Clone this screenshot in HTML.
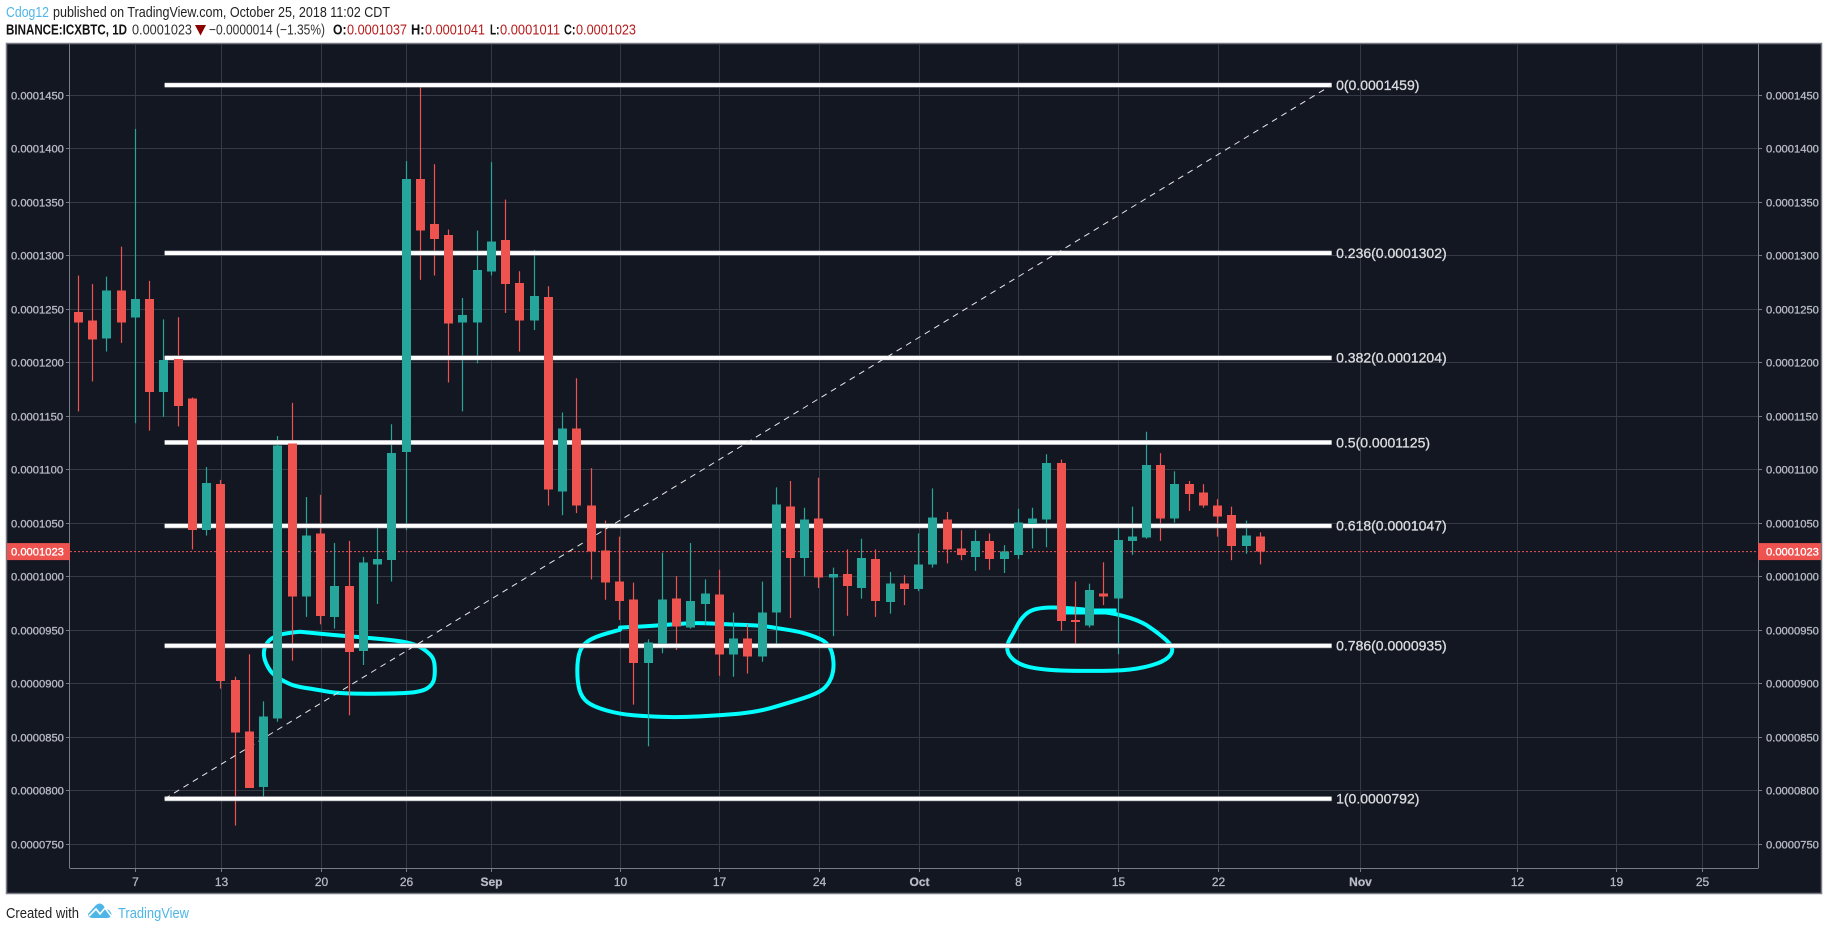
<!DOCTYPE html>
<html lang="en">
<head>
<meta charset="utf-8">
<title>ICXBTC 1D chart</title>
<style>
html,body{margin:0;padding:0;background:#fff;width:1828px;height:930px;overflow:hidden}
svg{display:block;font-family:"Liberation Sans",sans-serif}
</style>
</head>
<body>
<svg id="chart" xmlns="http://www.w3.org/2000/svg" width="1828" height="930" viewBox="0 0 1828 930">
  <rect x="0" y="0" width="1828" height="930" fill="#ffffff"/>
  <g font-size="15">
    <text x="6" y="17" fill="#4db6e6" textLength="43" lengthAdjust="spacingAndGlyphs">Cdog12</text>
    <text x="53" y="17" fill="#222" textLength="337" lengthAdjust="spacingAndGlyphs">published on TradingView.com, October 25, 2018 11:02 CDT</text>
  </g>
  <g font-size="14.5">
    <text x="6" y="34.5" fill="#111" font-weight="bold" textLength="121" lengthAdjust="spacingAndGlyphs">BINANCE:ICXBTC, 1D</text>
    <text x="132" y="34.5" fill="#333" textLength="60" lengthAdjust="spacingAndGlyphs">0.0001023</text>
    <polygon points="195,25 206,25 200.5,35.5" fill="#8b0000"/>
    <text x="209" y="34.5" fill="#333" textLength="116" lengthAdjust="spacingAndGlyphs">−0.0000014 (−1.35%)</text>
    <text x="333" y="34.5" fill="#111" font-weight="bold" textLength="13.5" lengthAdjust="spacingAndGlyphs">O:</text>
    <text x="347" y="34.5" fill="#b71c1c" textLength="60" lengthAdjust="spacingAndGlyphs">0.0001037</text>
    <text x="411" y="34.5" fill="#111" font-weight="bold" textLength="13.5" lengthAdjust="spacingAndGlyphs">H:</text>
    <text x="425" y="34.5" fill="#b71c1c" textLength="60" lengthAdjust="spacingAndGlyphs">0.0001041</text>
    <text x="490" y="34.5" fill="#111" font-weight="bold" textLength="9.5" lengthAdjust="spacingAndGlyphs">L:</text>
    <text x="500" y="34.5" fill="#b71c1c" textLength="60" lengthAdjust="spacingAndGlyphs">0.0001011</text>
    <text x="564" y="34.5" fill="#111" font-weight="bold" textLength="11.5" lengthAdjust="spacingAndGlyphs">C:</text>
    <text x="576" y="34.5" fill="#b71c1c" textLength="60" lengthAdjust="spacingAndGlyphs">0.0001023</text>
  </g>
  <rect x="6.5" y="43.5" width="1815" height="850" fill="#131722" stroke="#787b86" stroke-width="1.5"/>
  <g id="grid"></g>
  <g id="brushes"></g>
  <g id="wicks"></g>
  <g id="fibs"></g>
  <g id="bodies"></g>
  <g id="axes"></g>
  <g>
    <text x="6" y="918" font-size="14.5" fill="#222" textLength="73" lengthAdjust="spacingAndGlyphs">Created with</text>
    <path d="M88 914 L96 905 Q100 902 103 905 L106 909 Q111 910 111.500 915 Q110 918 107 918 L93 918 Q88 918 88 914 Z" fill="#4db6e6"/>
    <polyline points="89,916 96,909 100,914 105,908 111,916" fill="none" stroke="#ffffff" stroke-width="1.6"/>
    <text x="118" y="918" font-size="14.5" fill="#4db6e6" textLength="71" lengthAdjust="spacingAndGlyphs">TradingView</text>
  </g>
</svg>
<script>
// Prices are in units of 1e-7 BTC; index 0 is Aug 3.
const opens = [1247,1239,1222,1267,1242,1259,1172,1203,1166,1043,1086,903,855,803,867,1124,981,1040,962,991,930,1011,1015,1116,1371,1329,1319,1237,1237,1285,1314,1274,1239,1261,1079,1138,1066,1024,995,978,919,937,979,952,974,983,927,942,925,966,1065,1017,1054,999,1002,989,1016,976,993,988,1011,1053,1026,1018,1033,1016,1020,1049,1053,1106,959,954,984,979,1033,1036,1104,1054,1086,1078,1066,1057,1028,1037];
const highs = [1281,1273,1280,1308,1418,1276,1240,1242,1167,1102,1090,906,927,883,1131,1162,1074,1076,1031,1033,1018,1047,1142,1388,1459,1385,1324,1260,1323,1387,1352,1285,1305,1271,1153,1185,1101,1052,1037,994,941,1022,1000,1031,997,1006,966,955,995,1083,1089,1064,1092,1008,1025,1035,1025,1004,1001,1040,1082,1060,1043,1043,1040,1029,1063,1064,1114,1109,995,993,1013,1045,1065,1135,1115,1098,1089,1086,1072,1065,1052,1041];
const lows = [1154,1182,1210,1218,1143,1136,1149,1140,1025,1038,895,767,802,794,864,921,962,955,951,870,917,974,995,1043,1277,1281,1181,1154,1199,1281,1246,1210,1230,1066,1057,1059,997,978,959,880,841,928,931,951,954,907,906,909,920,936,961,1000,989,944,963,979,962,965,973,986,1008,1012,1015,1005,1006,1003,1016,1026,1027,949,933,952,973,927,1020,1035,1033,1050,1061,1064,1037,1015,1021,1011];
const closes = [1237,1221,1267,1237,1259,1172,1202,1159,1043,1087,902,854,802,869,1122,981,1038,963,991,929,1013,1016,1115,1371,1323,1315,1236,1244,1286,1313,1273,1239,1262,1081,1138,1066,1023,994,977,919,938,978,953,977,984,927,942,925,966,1067,1017,1053,999,1002,991,1017,977,993,988,1011,1055,1025,1020,1033,1016,1023,1050,1054,1106,958,957,987,981,1034,1037,1104,1054,1086,1077,1066,1056,1028,1038,1023];
const lastClose = 1023;
const priceTicks = [1450,1400,1350,1300,1250,1200,1150,1100,1050,1000,950,900,850,800,750];
const dateLabels = ['7','13','20','26','Sep','10','17','24','Oct','8','15','22','Nov','12','19','25'];
const dateDays = [4,10,17,23,29,38,45,52,59,66,73,80,90,101,108,114];
const boldDates = ['Sep','Oct','Nov'];
const fibRatios = ['0','0.236','0.382','0.5','0.618','0.786','1'];
const fibPrices = [1459,1302,1204,1125,1047,935,792];
const fibStartDay = 6.05;
const fibEndDay = 88;
const highlightOne = [[15.56,948],[14.62,947],[13.68,943.5],[13.17,937],[12.98,929],[13.1,920],[13.57,909],[14.38,902],[15.2,897],[16.73,894],[17.89,891],[19.77,890],[23.05,890.5],[24.33,893],[24.92,900],[25.04,909],[24.99,922],[24.56,929],[23.75,936],[22.35,940],[20.24,942.5],[17.89,945],[15.56,948]];
const highlightTwo = [[38.03,952],[39.66,953],[41.77,955],[43.41,956.5],[45.52,955],[47.86,954],[49.26,951],[50.67,948],[51.84,943],[52.54,938],[52.96,929],[53.06,912],[52.65,898],[51.84,890],[49.96,882],[47.63,873],[45.05,870],[42.24,868],[39.9,869],[38.03,871],[36.15,878],[35.34,886.5],[35.03,901],[35.03,922],[35.34,935],[36.15,943],[38.03,950]];
const highlightThree = [[70.56,969],[68.92,971],[67.52,970.5],[66.7,967],[66.12,959],[65.65,947],[65.18,936],[65.29,926],[66.12,917],[67.52,913],[69.39,911.5],[72.91,911.5],[74.66,914],[76.18,920],[76.84,928],[76.77,936],[75.71,948],[74.66,957.5],[73.14,964],[71.74,967],[70.56,968.5]];
const highlightMark = [[69,967],[72.9,967]];

const NS = 'http://www.w3.org/2000/svg';
const PANE_LEFT = 70, PANE_RIGHT = 1758, PANE_TOP = 44, PANE_BOTTOM = 868;
const GRID = '#363a45', AXIS = '#787b86', TICK_TEXT = '#b8bbc3', UP = '#26a69a', DOWN = '#ef5350';
const TICK_STYLE = {'font-size':11.2, fill:TICK_TEXT, stroke:TICK_TEXT, 'stroke-width':0.3};
function xScale(day){ return 78.5 + 14.24 * day; }
function yScale(price){ return 94.7 + (1450 - price) * 1.07; }
function fmt(price){ return '0.' + String(Math.round(price)).padStart(7, '0'); }
function make(tag, attrs, parent, text, extra){
  const el = document.createElementNS(NS, tag);
  for (const k in attrs) el.setAttribute(k, attrs[k]);
  if (extra) for (const k in extra) el.setAttribute(k, extra[k]);
  if (text !== undefined) el.textContent = text;
  parent.appendChild(el);
  return el;
}
const gridG = document.getElementById('grid');
const brushG = document.getElementById('brushes');
const wickG = document.getElementById('wicks');
const fibG = document.getElementById('fibs');
const bodyG = document.getElementById('bodies');
const axesG = document.getElementById('axes');

// horizontal grid, ticks and price labels
priceTicks.forEach(function(p){
  const y = Math.round(yScale(p)) + 0.5;
  const line = make('line', {x1:PANE_LEFT, x2:PANE_RIGHT, y1:y, y2:y, stroke:GRID, 'stroke-width':1}, gridG);
  
  
  const tl = make('line', {x1:PANE_LEFT-4, x2:PANE_LEFT, y1:y, y2:y, stroke:AXIS}, axesG);
  
  
  const tr = make('line', {x1:PANE_RIGHT, x2:PANE_RIGHT+4, y1:y, y2:y, stroke:AXIS}, axesG);
  
  
  const ll = make('text', {x:11, y:y+4}, axesG, fmt(p), TICK_STYLE);
  
  
  const lr = make('text', {x:PANE_RIGHT+8, y:y+4}, axesG, fmt(p), TICK_STYLE);
  
  
});

// vertical grid, ticks and date labels
dateDays.forEach(function(d, i){
  const x = Math.round(xScale(d)) + 0.5;
  const line = make('line', {x1:x, x2:x, y1:PANE_TOP, y2:PANE_BOTTOM, stroke:GRID, 'stroke-width':1}, gridG);
  
  
  const t = make('line', {x1:x, x2:x, y1:PANE_BOTTOM, y2:PANE_BOTTOM+4, stroke:AXIS}, axesG);
  
  
  const attrs = {x:x, y:886, 'font-size':12, fill:TICK_TEXT, 'text-anchor':'middle', stroke:TICK_TEXT, 'stroke-width':0.25};
  if (boldDates.indexOf(dateLabels[i]) >= 0) attrs['font-weight'] = 'bold';
  const lab = make('text', attrs, axesG, dateLabels[i]);
  
  
});

// hand-drawn highlights
function smoothPath(points){
  const pts = points.map(function(p){ return [xScale(p[0]), yScale(p[1])]; });
  let d = 'M' + pts[0][0].toFixed(1) + ' ' + pts[0][1].toFixed(1);
  for (let i = 1; i < pts.length - 1; i++){
    const mx = (pts[i][0] + pts[i+1][0]) / 2, my = (pts[i][1] + pts[i+1][1]) / 2;
    d += 'Q' + pts[i][0].toFixed(1) + ' ' + pts[i][1].toFixed(1) + ' ' + mx.toFixed(1) + ' ' + my.toFixed(1);
  }
  const last = pts[pts.length-1];
  d += 'L' + last[0].toFixed(1) + ' ' + last[1].toFixed(1);
  return d;
}
[highlightOne, highlightTwo, highlightThree].forEach(function(points){
  const path = make('path', {d:smoothPath(points), fill:'none', stroke:'#00ffff', 'stroke-width':4, 'stroke-linecap':'round', 'stroke-linejoin':'round'}, brushG);
  
  
});
const mark = make('path', {d:smoothPath(highlightMark), fill:'none', stroke:'#00ffff', 'stroke-width':6}, brushG);



// candles
opens.forEach(function(o, i){
  const c = closes[i], up = c >= o, color = up ? UP : DOWN;
  const left = Math.round(xScale(i) - 0.5);
  const wick = make('rect', {x:left-0.1, y:yScale(highs[i]), width:1.2, height:Math.max(1, yScale(lows[i]) - yScale(highs[i])), fill:color}, wickG);
  
  
  const top = yScale(Math.max(o, c)), bottom = yScale(Math.min(o, c));
  const body = make('rect', {x:left-4, y:top, width:9, height:Math.max(2, bottom - top), fill:color, 'shape-rendering':'crispEdges'}, bodyG);
  
  
});

// fibonacci levels, labels and trend line
fibPrices.forEach(function(p, i){
  const y = yScale(p);
  const edge = make('line', {x1:xScale(fibStartDay), x2:xScale(fibEndDay), y1:y, y2:y, stroke:'#8a8c93', 'stroke-width':5}, fibG);
  
  
  const line = make('line', {x1:xScale(fibStartDay), x2:xScale(fibEndDay), y1:y, y2:y, stroke:'#ffffff', 'stroke-width':3.8}, fibG);
  
  
  const lab = make('text', {x:xScale(fibEndDay)+4.5, y:y+4.8, 'font-size':14, fill:'#dcdde0', stroke:'#dcdde0', 'stroke-width':0.3}, fibG, fibRatios[i] + '(' + fmt(p) + ')');
  
  
});
const trend = make('line', {x1:xScale(fibStartDay), y1:yScale(fibPrices[6]), x2:xScale(fibEndDay), y2:yScale(fibPrices[0]), stroke:'#e8e8e8', 'stroke-width':1, 'stroke-dasharray':'6 5'}, fibG);



// axis lines
const leftAxis = make('line', {x1:PANE_LEFT-0.5, x2:PANE_LEFT-0.5, y1:PANE_TOP, y2:PANE_BOTTOM, stroke:AXIS}, axesG);


const rightAxis = make('line', {x1:PANE_RIGHT+0.5, x2:PANE_RIGHT+0.5, y1:PANE_TOP, y2:PANE_BOTTOM, stroke:AXIS}, axesG);


const bottomAxis = make('line', {x1:PANE_LEFT-0.5, x2:PANE_RIGHT+0.5, y1:PANE_BOTTOM+0.5, y2:PANE_BOTTOM+0.5, stroke:AXIS}, axesG);



// last price line and badges
const ly = yScale(lastClose);
const priceLine = make('line', {x1:PANE_LEFT, x2:PANE_RIGHT, y1:ly, y2:ly, stroke:DOWN, 'stroke-width':1, 'stroke-dasharray':'2 2'}, gridG);


const badgeL = make('rect', {x:7, y:ly-8.5, width:63, height:17, fill:DOWN}, axesG);


const badgeLText = make('text', {x:11, y:ly+4, 'font-size':11.2, fill:'#ffffff', stroke:'#ffffff', 'stroke-width':0.3}, axesG, fmt(lastClose));


const badgeR = make('rect', {x:PANE_RIGHT, y:ly-8.5, width:63, height:17, fill:DOWN}, axesG);


const badgeRText = make('text', {x:PANE_RIGHT+8, y:ly+4, 'font-size':11.2, fill:'#ffffff', stroke:'#ffffff', 'stroke-width':0.3}, axesG, fmt(lastClose));


</script>
</body>
</html>
